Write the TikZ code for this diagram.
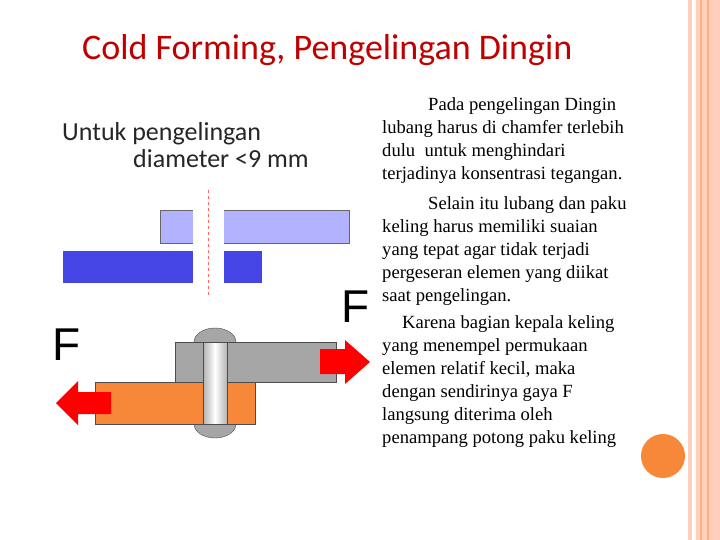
\documentclass[tikz,border=0pt]{standalone}
\usepackage{fontspec}
\setmainfont{Liberation Serif}
\newfontfamily\calfont{Carlito}
\newfontfamily\sansfontF{Liberation Sans}
\definecolor{orng}{HTML}{F7883A}
\begin{document}
\begin{tikzpicture}[x=1pt,y=-1pt,
  plate/.style={draw=black!70,line width=0.6pt},
  farrow/.style={fill=red,draw=none},
  body/.style={font=\fontsize{18.6}{23}\selectfont,anchor=north west,align=left,inner sep=0pt}]
\useasboundingbox (0,0) rectangle (720,540);
\fill[white] (0,0) rectangle (720,540);
% right border
\fill[orange!25!pink!60] (688,0) rectangle (720,540);
\fill[white] (692,0) rectangle (696,540);
\fill[orange!50!pink!80] (700,0) rectangle (702,540);
\fill[orange!50!pink!80] (707,0) rectangle (709,540);
\fill[orng] (663,456) circle (22);
% title
\node[text=red!75!black,font=\calfont\fontsize{36}{36}\selectfont,anchor=west,inner sep=0pt] (title) at (82,50) {Cold Forming, Pengelingan Dingin};
\node[font=\calfont\fontsize{26}{27}\selectfont,align=left,anchor=north west,inner sep=0pt,text=black!85] (sub) at (62,122) {Untuk pengelingan\\\hspace*{71pt}diameter <9 mm};
% plates
\fill[blue!30!white,draw=black!60] (160,210) rectangle (349,243);
\fill[white] (193,209.5) rectangle (224,243.5);
\fill[blue!70!white!90!black] (63,251) rectangle (262,283);
\fill[white] (193,250.5) rectangle (224,283.5);
\draw[red!60,dashed,line width=0.4pt] (208,190) -- (208,297);
% riveted joint
\draw[black!70,fill=black!35] (215,342) circle [x radius=21, y radius=14];
\draw[black!70,fill=black!35] (215,424) circle [x radius=21, y radius=14];
\draw[plate,fill=black!35] (175,342) rectangle (336,382);
\draw[plate,fill=orng] (95,382) rectangle (255,424);
\shade[left color=black!30,right color=black!30,middle color=white,draw=black!70] (203,342) rectangle (227,424);
% arrows
\fill[farrow] (320,349) -- (345,349) -- (345,340) -- (370,362) -- (345,384) -- (345,374) -- (320,374) -- cycle;
\fill[farrow] (111,392) -- (78,392) -- (78,381) -- (56,403) -- (78,425) -- (78,414) -- (111,414) -- cycle;
\node[font=\sansfontF\fontsize{46}{46}\selectfont] (fl) at (67,345) {F};
\node[font=\sansfontF\fontsize{46}{46}\selectfont] (fr) at (356,307) {F};
% text
\node[body] (t1) at (382,97) {\hspace*{46pt}Pada pengelingan Dingin\\lubang harus di chamfer terlebih\\dulu\ \ untuk menghindari\\terjadinya konsentrasi tegangan.};
\node[body] (t2) at (382,196) {\hspace*{46pt}Selain itu lubang dan paku\\keling harus memiliki suaian\\yang tepat agar tidak terjadi\\pergeseran elemen yang diikat\\saat pengelingan.};
\node[body] (t3) at (382,315) {\hspace*{20pt}Karena bagian kepala keling\\yang menempel permukaan\\elemen relatif kecil, maka\\dengan sendirinya gaya F\\langsung diterima oleh\\penampang potong paku keling};
\end{tikzpicture}
\end{document}
